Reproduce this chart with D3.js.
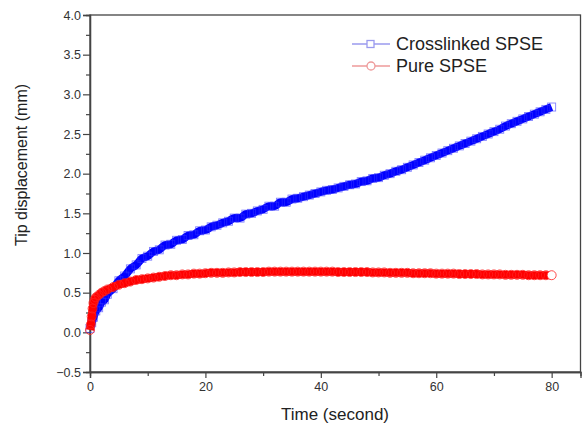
<!DOCTYPE html>
<html><head><meta charset="utf-8">
<script src="https://cdn.jsdelivr.net/npm/d3@7"></script>
<style>body{margin:0;background:#fff}svg{display:block}</style>
</head><body>
<svg id="c" width="583" height="429"></svg>
<script>
// ---- data ----
const seriesNames = ["Crosslinked SPSE", "Pure SPSE"];
const crossT = [0,0.3,0.6,1,1.5,2,2.5,3,4,5,6,7,8,9,10,11,12,13,14,15,16,17,18,19,20,21,22,23,24,25,26,27,28,29,30,31,32,33,34,35,36,37,38,39,40,41,42,43,44,45,46,47,48,49,50,51,52,53,54,55,56,57,58,59,60,61,62,63,64,65,66,67,68,69,70,71,72,73,74,75,76,77,78,79,80];
const crossV = [0.05,0.12,0.19,0.27,0.31,0.38,0.41,0.48,0.55,0.65,0.71,0.80,0.85,0.93,0.96,1.02,1.04,1.10,1.11,1.16,1.17,1.22,1.23,1.28,1.29,1.33,1.35,1.38,1.40,1.44,1.44,1.49,1.50,1.53,1.55,1.59,1.59,1.64,1.64,1.68,1.69,1.71,1.73,1.75,1.77,1.79,1.80,1.82,1.84,1.86,1.87,1.90,1.91,1.94,1.95,1.98,2.00,2.03,2.05,2.08,2.11,2.14,2.17,2.20,2.23,2.26,2.29,2.32,2.35,2.38,2.41,2.44,2.47,2.50,2.53,2.56,2.60,2.63,2.66,2.69,2.72,2.75,2.78,2.81,2.84];
const pureT = [0,0.15,0.3,0.45,0.6,0.8,1,1.5,2,2.5,3,
  4,5,6,7,8,9,
  10,11,12,13,14,15,16,17,18,19,
  20,21,22,23,24,25,26,27,28,29,
  30,31,32,33,34,35,36,37,38,39,
  40,41,42,43,44,45,46,47,48,49,
  50,51,52,53,54,55,56,57,58,59,
  60,61,62,63,64,65,66,67,68,69,
  70,71,72,73,74,75,76,77,78,79,
  80];
const pureV = [0.03,0.10,0.20,0.30,0.37,0.41,0.44,0.47,0.50,0.52,0.54,
  0.57,0.60,0.62,0.64,0.66,0.67,
  0.68,0.69,0.70,0.71,0.72,0.72,0.73,0.73,0.74,0.74,
  0.745,0.75,0.75,0.75,0.755,0.755,0.76,0.76,0.76,0.76,
  0.76,0.765,0.765,0.765,0.765,0.765,0.765,0.765,0.765,0.765,
  0.765,0.765,0.765,0.76,0.76,0.76,0.76,0.76,0.76,0.755,
  0.755,0.755,0.75,0.75,0.75,0.75,0.745,0.745,0.745,0.745,
  0.74,0.74,0.74,0.74,0.735,0.735,0.735,0.735,0.73,0.73,
  0.73,0.73,0.725,0.725,0.725,0.725,0.72,0.72,0.72,0.72,
  0.72];
const xTicks = [0,20,40,60,80];
const yTicks = [-0.5,0,0.5,1,1.5,2,2.5,3,3.5,4];

// ---- layout ----
const svg = d3.select("#c");
const L = 90, R = 580.5, T = 15, B = 372;
const x = d3.scaleLinear().domain([0, 85]).range([L, R]);
const y = d3.scaleLinear().domain([-0.5, 4]).range([B, T]);
const axisCol = "#444", txtCol = "#333", font = "Liberation Sans, Arial, sans-serif";

// frame
svg.append("rect").attr("x", L).attr("y", T).attr("width", R - L).attr("height", B - T)
  .attr("fill", "none").attr("stroke", axisCol).attr("stroke-width", 1.3);

// axes
const xMinor = svg.append("g").attr("transform", `translate(0,${B})`)
  .call(d3.axisBottom(x).tickValues(d3.range(10, 81, 20)).tickSize(4).tickFormat(""));
const xAx = svg.append("g").attr("transform", `translate(0,${B})`)
  .call(d3.axisBottom(x).tickValues(xTicks).tickSize(6).tickPadding(4).tickFormat(d3.format("d")));
const yMinor = svg.append("g").attr("transform", `translate(${L},0)`)
  .call(d3.axisLeft(y).tickValues(d3.range(-0.25, 4, 0.5)).tickSize(4).tickFormat(""));
const yAx = svg.append("g").attr("transform", `translate(${L},0)`)
  .call(d3.axisLeft(y).tickValues(yTicks).tickSize(7).tickPadding(2).tickFormat(d3.format(".1f")));
[xMinor, xAx, yMinor, yAx].forEach(g => {
  g.select(".domain").attr("stroke", axisCol).attr("stroke-width", 1.3);
  g.selectAll(".tick line").attr("stroke", axisCol).attr("stroke-width", 1.2);
  g.selectAll("text").attr("fill", txtCol).style("font-family", font).style("font-size", "12.5px");
});

// axis titles
svg.append("text").attr("x", 335).attr("y", 420).attr("text-anchor", "middle")
  .attr("fill", "#222").style("font-family", font).style("font-size", "17px").text("Time (second)");
svg.append("text").attr("transform", "translate(27,165) rotate(-90)").attr("text-anchor", "middle")
  .attr("fill", "#222").style("font-family", font).style("font-size", "16px").text("Tip displacement (mm)");

// series
const crossData = crossT.map((t, i) => [t, crossV[i]]);
const pureData = pureT.map((t, i) => [t, pureV[i]]);
const line = d3.line().x(d => x(d[0])).y(d => y(d[1])).curve(d3.curveMonotoneX);

const plot = svg.append("g");
// crosslinked (blue squares)
plot.append("path").datum(crossData).attr("d", line).attr("fill", "none")
  .attr("stroke", "#0000ff").attr("stroke-width", 8);
plot.selectAll("rect.cs").data(crossData).join("rect").attr("class", "cs")
  .attr("x", d => x(d[0]) - 4).attr("y", d => y(d[1]) - 4)
  .attr("width", 8).attr("height", 8).attr("fill", "none")
  .attr("stroke", "#3030ff").attr("stroke-opacity", 0.6).attr("stroke-width", 0.9);
// pure (red circles)
plot.append("path").datum(pureData).attr("d", line).attr("fill", "none")
  .attr("stroke", "#ff0000").attr("stroke-width", 8);
plot.selectAll("circle.ps").data(pureData).join("circle").attr("class", "ps")
  .attr("cx", d => x(d[0])).attr("cy", d => y(d[1])).attr("r", 4.5)
  .attr("fill", (d, i) => i === pureData.length - 1 ? "#fff" : "none")
  .attr("stroke", "#ff2020").attr("stroke-opacity", 0.8).attr("stroke-width", 1);

// legend
const leg = svg.append("g");
const legRows = [{name: seriesNames[0], col: "#9a9aee", shape: "square", y: 44},
                 {name: seriesNames[1], col: "#ee9a9a", shape: "circle", y: 66}];
legRows.forEach(r => {
  leg.append("line").attr("x1", 352).attr("x2", 390).attr("y1", r.y).attr("y2", r.y)
    .attr("stroke", r.col).attr("stroke-width", 1.3);
  if (r.shape === "square") {
    leg.append("rect").attr("x", 367).attr("y", r.y - 3.5).attr("width", 7).attr("height", 7)
      .attr("fill", "#fff").attr("stroke", r.col).attr("stroke-width", 1.3);
  } else {
    leg.append("circle").attr("cx", 371).attr("cy", r.y).attr("r", 4)
      .attr("fill", "#fff").attr("stroke", r.col).attr("stroke-width", 1.3);
  }
  leg.append("text").attr("x", 396).attr("y", r.y + 6).attr("fill", "#222")
    .style("font-family", font).style("font-size", "18px").text(r.name);
});
</script>
</body></html>
